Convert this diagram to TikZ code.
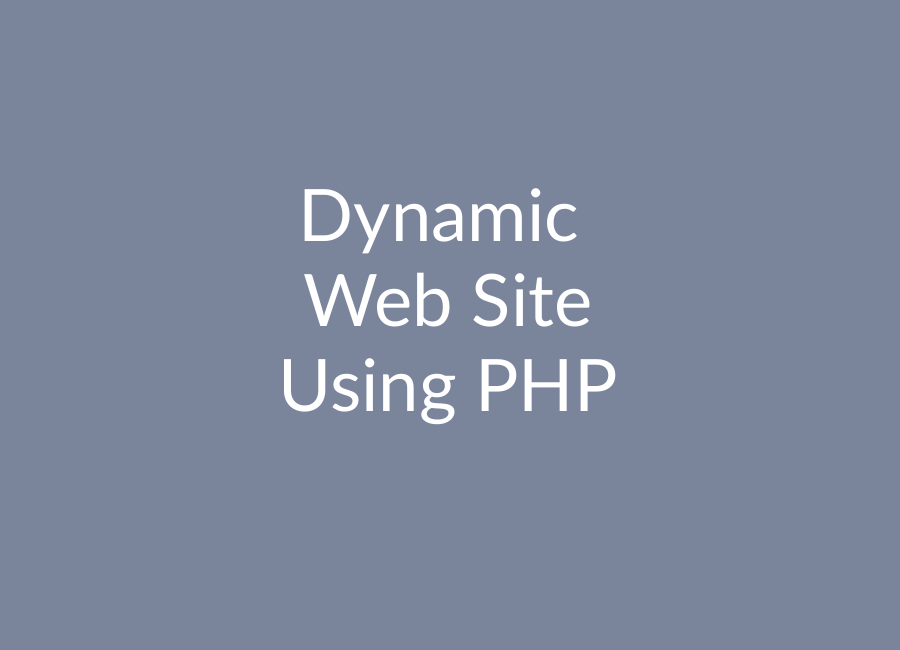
\documentclass[tikz,border=0pt]{standalone}
\usepackage{fontspec}
\setmainfont{Lato}
\usepackage{tikz}
\usetikzlibrary{positioning}
\definecolor{slate}{HTML}{7A859C}
\begin{document}
\begin{tikzpicture}[every node/.style={text=white, anchor=base, font=\fontsize{20.6}{24}\selectfont}]
		\fill[slate] (0,0) rectangle (9,6.5);
		\node (d) at (4.39,4.08) {Dynamic};
		\node (w) at (4.48,3.23) {Web Site};
		\node (u) at (4.48,2.38) {Using PHP};
	\end{tikzpicture}
\end{document}
